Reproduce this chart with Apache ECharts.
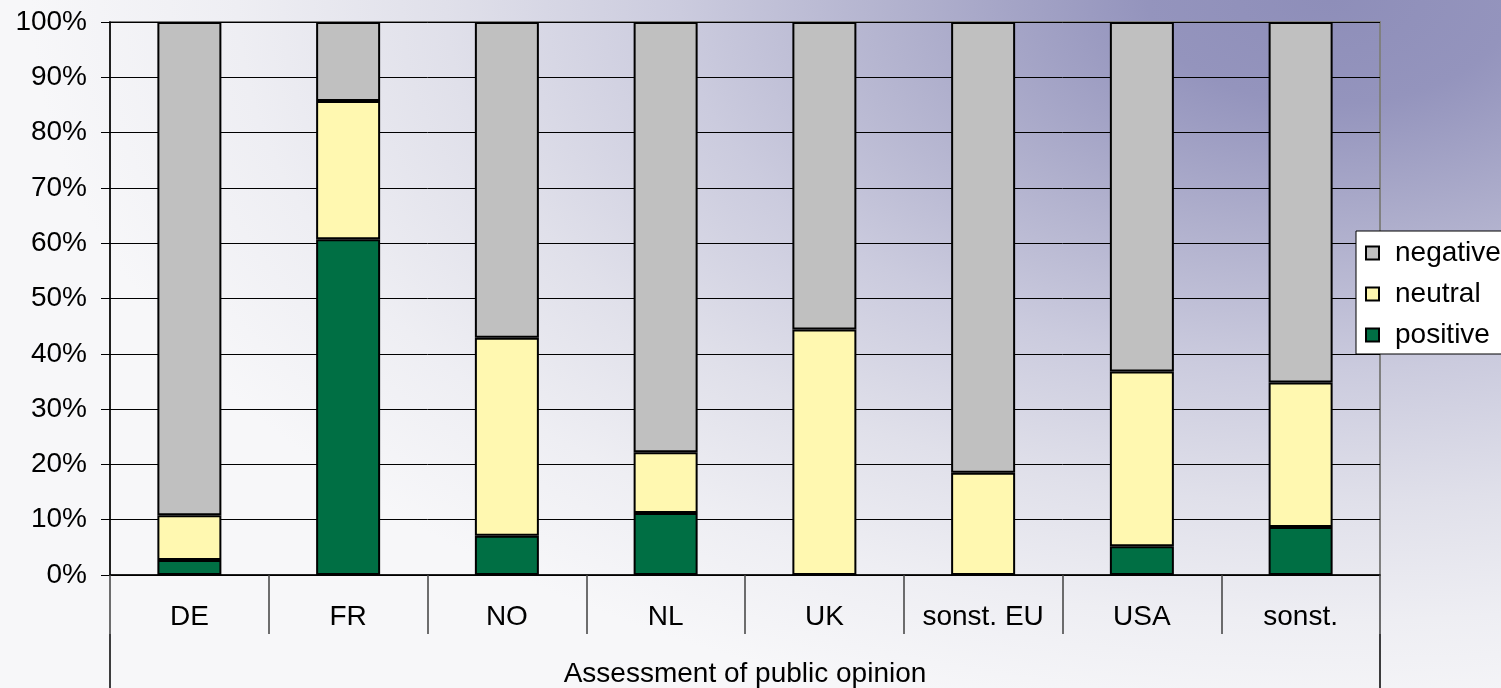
<!DOCTYPE html>
<html>
<head>
<meta charset="utf-8">
<script src="https://cdn.jsdelivr.net/npm/echarts@6/dist/echarts.min.js"></script>
<style>
html,body{margin:0;padding:0;}
#chart{width:1501px;height:688px;
background: radial-gradient(ellipse 1300px 740px at 1330px 0px, #8e8eb9 0%, #9494bd 14%, #b0b0cd 32%, #cbcbde 50%, #e0e0ea 68%, #eeeef3 84%, #f7f7f9 100%);}
</style>
</head>
<body>
<div id="chart"></div>
<script>
const categories = ['DE', 'FR', 'NO', 'NL', 'UK', 'sonst. EU', 'USA', 'sonst.'];
const positive = [2.7, 60.7, 7.1, 11.2, 0, 0, 5.2, 8.7];
const neutral  = [8.1, 25.0, 35.8, 11.0, 44.4, 18.5, 31.6, 26.1];
const negative = [89.2, 14.3, 57.1, 77.8, 55.6, 81.5, 63.2, 65.2];
const groupLabel = ['Assessment of public opinion'];
const seriesNames = ['positive', 'neutral', 'negative'];
const legendOrder = ['negative', 'neutral', 'positive'];

const FONT = 'Liberation Sans, Arial, Helvetica, sans-serif';
const FS = 28;
const chart = echarts.init(document.getElementById('chart'));
const colors = {positive: '#006f44', neutral: '#fff8b0', negative: '#c0c0c0'};
const values = {positive: positive, neutral: neutral, negative: negative};

chart.setOption({
  backgroundColor: 'transparent',
  animation: false,
  textStyle: {fontFamily: FONT, color: '#000'},
  grid: {left: 110, right: 121, top: 22, bottom: 113, show: true,
         borderColor: '#808080', borderWidth: 2, backgroundColor: 'transparent'},
  legend: {
    orient: 'vertical', left: 1356, top: 231,
    data: legendOrder,
    itemWidth: 13, itemHeight: 13, itemGap: 11,
    backgroundColor: '#ffffff', borderColor: '#000', borderWidth: 1,
    padding: [7, 12, 4, 9],
    icon: 'rect',
    textStyle: {fontSize: FS, color: '#000', fontFamily: FONT, lineHeight: 30, padding: [0, 0, 0, 11]}
  },
  xAxis: [
    {
      type: 'category', data: categories, position: 'bottom',
      axisLine: {show: true, lineStyle: {color: '#000', width: 1.5}},
      axisTick: {show: true, length: 59, interval: 0, alignWithLabel: false, lineStyle: {color: '#404040', width: 1.5}},
      axisLabel: {fontSize: FS, color: '#000', margin: 28, fontFamily: FONT, interval: 0},
      splitLine: {show: false}
    },
    {
      type: 'category', data: groupLabel, position: 'bottom', offset: 59,
      axisLine: {show: false},
      axisTick: {show: true, length: 60, interval: 0, lineStyle: {color: '#000', width: 1.5}},
      axisLabel: {fontSize: FS, color: '#000', margin: 26, fontFamily: FONT},
      splitLine: {show: false}
    }
  ],
  yAxis: {
    type: 'value', min: 0, max: 100, interval: 10,
    axisLine: {show: true, lineStyle: {color: '#000', width: 1.5}},
    axisTick: {show: true, length: 9, lineStyle: {color: '#000'}},
    axisLabel: {fontSize: FS, color: '#000', margin: 23, formatter: '{value}%', fontFamily: FONT},
    splitLine: {show: true, lineStyle: {color: '#000', width: 1}}
  },
  series: seriesNames.map(n => ({
    name: n, type: 'bar', stack: 'total', xAxisIndex: 0,
    barWidth: 64,
    data: values[n],
    itemStyle: {color: colors[n], borderColor: '#000', borderWidth: 2}
  }))
});
</script>
</body>
</html>
